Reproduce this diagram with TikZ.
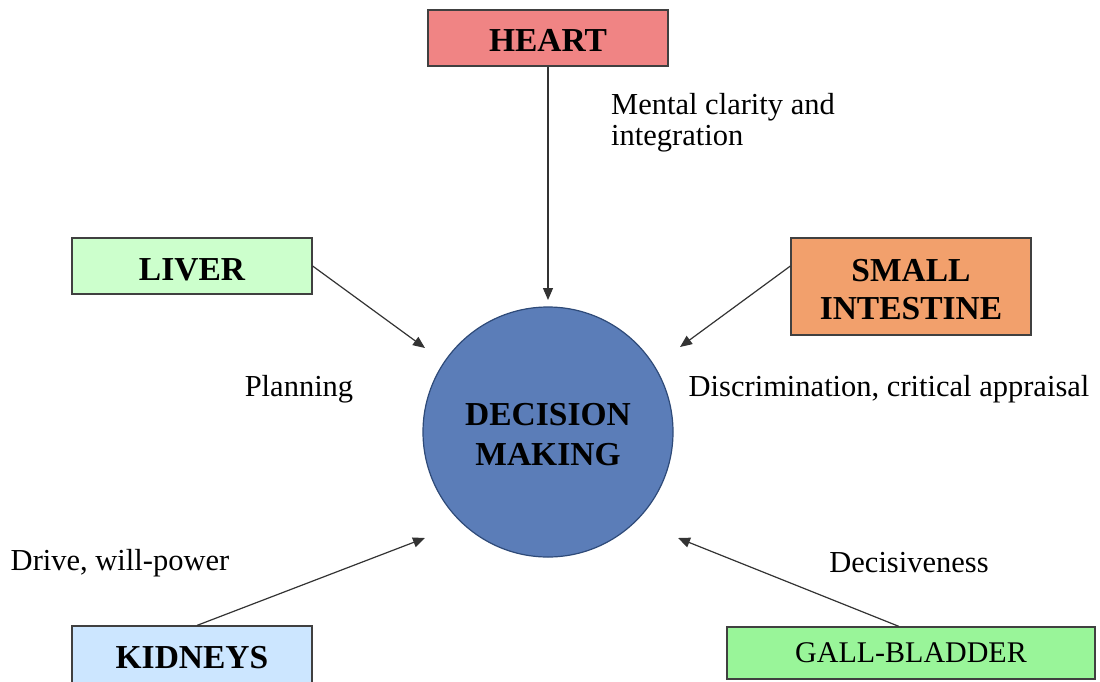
\documentclass[tikz,border=0pt]{standalone}
\usepackage{fontspec}
\setmainfont{Liberation Serif}
\usetikzlibrary{arrows.meta,calc}

\definecolor{heartred}{HTML}{F08484}
\definecolor{livergreen}{HTML}{CCFFCC}
\definecolor{sibrown}{HTML}{F2A06C}
\definecolor{kidblue}{HTML}{CCE6FF}
\definecolor{gbgreen}{HTML}{99F599}
\definecolor{coreblue}{HTML}{5B7DB8}
\definecolor{coreedge}{HTML}{2E4A78}
\definecolor{edgegray}{HTML}{404040}

% invisible strut that sets the height of a first line
\newcommand{\capstrut}[1]{\rule{0pt}{#1}}

\tikzset{
  organ/.style={draw=edgegray, line width=1.2pt, rectangle, inner sep=0pt,
    minimum width=240pt, align=center,
    font=\fontsize{33.5}{38}\selectfont\bfseries},
  label/.style={inner sep=0pt, font=\fontsize{30.5}{31}\selectfont},
  feed/.style={draw=black!80, line width=1.2pt,
    -{Triangle[length=12pt,width=10pt]}},
}

\begin{document}
\begin{tikzpicture}[x=1pt, y=-1pt]
  \useasboundingbox (0,0) rectangle (1100,681);
  \clip (0,0) rectangle (1100,681);

  % central circle
  \node[circle, draw=coreedge, line width=1.2pt, fill=coreblue,
        minimum size=250pt, inner sep=0pt, align=center,
        font=\fontsize{33.5}{40}\selectfont\bfseries]
        (dm) at (548,432) {\capstrut{27pt}DECISION\\MAKING};

  % organ boxes
  \node[organ, fill=heartred, minimum height=56pt] (heart) at (548,38)
        {\capstrut{27pt}HEART};
  \node[organ, fill=livergreen, minimum height=56pt] (liver) at (192,266)
        {\capstrut{28.5pt}LIVER};
  \node[organ, fill=sibrown, minimum height=97pt] (si) at (911,286.5)
        {\capstrut{29pt}SMALL\\INTESTINE};
  \node[organ, fill=kidblue, minimum height=64pt] (kid) at (192,658) {KIDNEYS};
  \node[organ, fill=gbgreen, minimum width=368pt, minimum height=52pt,
        font=\fontsize{30}{32}\selectfont] (gb) at (911,653) {GALL-BLADDER};

  % arrow tips near the circle
  \coordinate (tTop) at (548,300);
  \coordinate (tUL) at (425,348);
  \coordinate (tUR) at (680,347);
  \coordinate (tLL) at (425,538);
  \coordinate (tLR) at (678,538);

  % connectors
  \draw[feed] (heart.south) -- (tTop);
  \draw[feed] (liver.east) -- (tUL);
  \draw[feed] (si.west |- liver.east) -- (tUR);
  \draw[feed] ($(kid.north)+(5,0)$) -- (tLL);
  \draw[feed] ($(gb.north)+(-12,0)$) -- (tLR);

  % labels
  \node[label, anchor=west, align=left] (lHeart) at (611,122.5)
        {Mental clarity and\\integration};
  \node[label] (lLiver) at (299,389) {Planning};
  \node[label] (lSI) at (889,389) {Discrimination, critical appraisal};
  \node[label] (lKid) at (120,563) {Drive, will-power};
  \node[label] (lGB) at (909,563) {Decisiveness};
\end{tikzpicture}
\end{document}
